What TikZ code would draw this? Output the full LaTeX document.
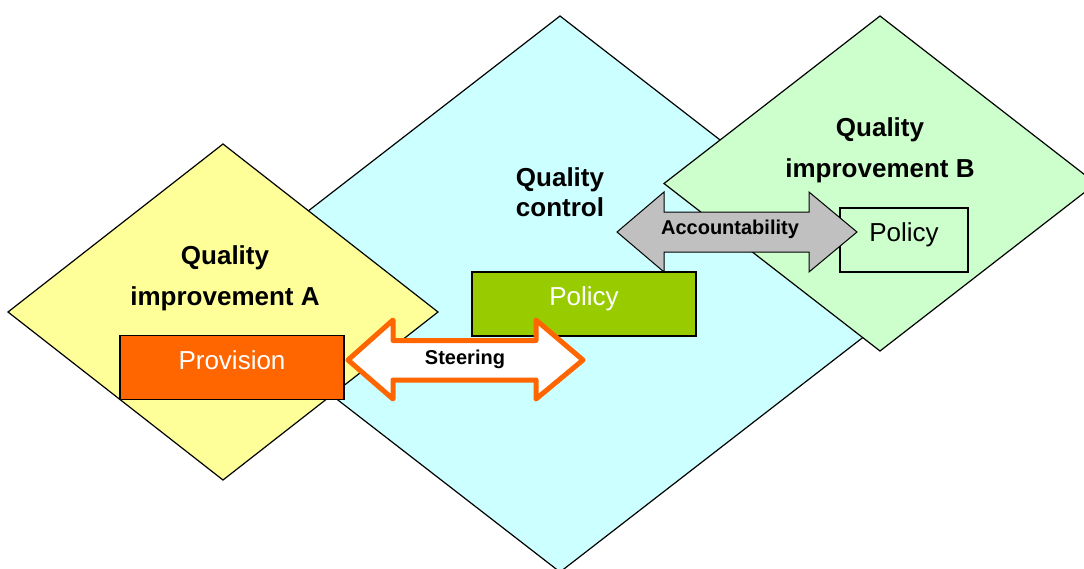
\documentclass[tikz,border=0pt]{standalone}
\usepackage{fontspec}
\setmainfont{Liberation Sans}
\usetikzlibrary{shapes.geometric}

\definecolor{ctrlfill}{HTML}{CCFFFF}
\definecolor{qafill}{HTML}{FFFF99}
\definecolor{qbfill}{HTML}{CCFFCC}
\definecolor{provfill}{HTML}{FF6600}
\definecolor{polfill}{HTML}{99CC00}
\definecolor{accfill}{HTML}{C0C0C0}

\tikzset{
  zone/.style={diamond, draw=black, line width=1.2pt, inner sep=0pt, outer sep=0pt},
  title/.style={font=\fontsize{26}{30}\selectfont\bfseries, align=center},
  box/.style={draw=black, line width=1.6pt, minimum height=64pt, inner sep=0pt,
    text height=0.75em, text depth=0.36em, font=\fontsize{26}{30}\selectfont},
  tag/.style={font=\fontsize{20}{24}\selectfont\bfseries},
  steerarrow/.style={draw=provfill, fill=white, line width=5pt, line join=round},
  accarrow/.style={draw=black, fill=accfill, line width=1pt},
}

\begin{document}
\begin{tikzpicture}[x=1pt,y=-1pt]
    \useasboundingbox[fill=white] (0,0) rectangle (1084,568);
    \node[zone, fill=ctrlfill, minimum width=718pt, minimum height=556pt] (ctrl) at (560,294) {};
    \node[zone, fill=qafill, minimum width=430pt, minimum height=336pt] (qiA) at (223,312) {};
    \node[zone, fill=qbfill, minimum width=432pt, minimum height=335pt] (qiB) at (880,183.5) {};

    \node[title] (tA) at (225,278) {Quality\\[11pt]improvement A};
    \node[title] (tC) at (560,192) {Quality\\control};
    \node[title] (tB) at (880,150) {Quality\\[11pt]improvement B};

    \node[box, fill=provfill, text=white, minimum width=224pt] (prov) at (232,367.5) {Provision};
    \node[box, fill=polfill, text=white, minimum width=224pt] (polA) at (584,304) {Policy};
    \node[box, fill=qbfill, minimum width=128pt] (polB) at (904,240) {Policy};

    \coordinate (sL) at (348,360);
    \coordinate (sR) at (583,360);
    \draw[steerarrow] (sL) -- (393,320) -- (393,340.5) -- (536,340.5) -- (536,320) -- (sR)
      -- (536,399) -- (536,380) -- (393,380) -- (393,399) -- cycle;
    \node[tag] (steer) at (465,359) {Steering};

    \coordinate (aL) at (617,232);
    \coordinate (aR) at (857,232);
    \draw[accarrow] (aL) -- (664,192) -- (664,212) -- (809,212) -- (809,192) -- (aR)
      -- (809,272) -- (809,252) -- (664,252) -- (664,272) -- cycle;
    \node[tag] (acc) at (730,229) {Accountability};
\end{tikzpicture}
\end{document}
